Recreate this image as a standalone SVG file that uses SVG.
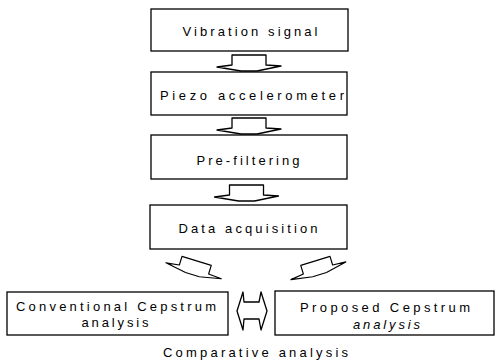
<svg xmlns="http://www.w3.org/2000/svg" width="496" height="361" viewBox="0 0 496 361">
<style>
.box{fill:#fff;stroke:#000;stroke-width:1.3}
.arr{fill:#fff;stroke:#000;stroke-width:1.3;stroke-linejoin:round}
.t{font-family:"Liberation Sans",Arial,sans-serif;font-size:13px;fill:#000;text-anchor:middle}
.i{font-style:italic}
</style>
<defs>
<path id="blk" d="M-17,-10 L17,-10 L17,0 L32,1 L8,6 L-8,6 L-32,2 L-17,0 Z"/>
</defs>
<rect width="496" height="361" fill="#fff"/>
<g id="n1"><rect class="box" x="151" y="9" width="197" height="42"/><text class="t" x="250" y="35.5" textLength="135" lengthAdjust="spacing">Vibration signal</text></g>
<g id="n2"><rect class="box" x="151" y="72" width="196" height="43"/><text class="t" x="252" y="99.5" textLength="184" lengthAdjust="spacing">Piezo accelerometer</text></g>
<g id="n3"><rect class="box" x="151" y="135" width="196" height="44"/><text class="t" x="248" y="164.5" textLength="103" lengthAdjust="spacing">Pre-filtering</text></g>
<g id="n4"><rect class="box" x="150" y="205" width="197" height="44"/><text class="t" x="248" y="232.5" textLength="139" lengthAdjust="spacing">Data acquisition</text></g>
<g id="n5"><rect class="box" x="7" y="292" width="221" height="43"/><text class="t" x="116" y="310.5" textLength="200" lengthAdjust="spacing">Conventional Cepstrum</text><text class="t" x="115" y="326.5" textLength="67" lengthAdjust="spacing">analysis</text></g>
<g id="n6"><rect class="box" x="275" y="291" width="219" height="44"/><text class="t" x="385" y="311.5" textLength="170" lengthAdjust="spacing">Proposed Cepstrum</text><text class="t i" x="386.5" y="328.5" textLength="67" lengthAdjust="spacing">analysis</text></g>
<g id="n7"><text class="t" x="255.5" y="356.5" textLength="185" lengthAdjust="spacing">Comparative analysis</text></g>
<g id="connectors">
<use href="#blk" class="arr" transform="translate(249,65)"/>
<use href="#blk" class="arr" transform="translate(249,128)"/>
<use href="#blk" class="arr" transform="translate(246.5,195)"/>
<use href="#blk" class="arr" transform="translate(194,269.5) rotate(17) scale(0.9)"/>
<use href="#blk" class="arr" transform="translate(318,269.5) rotate(-17) scale(0.9)"/>
<path class="arr" d="M237,311 L243,292 L244,302 L259,302 L261,292 L267,311 L261,330 L259,319 L244,319 L243,330 Z"/>
</g>
</svg>
